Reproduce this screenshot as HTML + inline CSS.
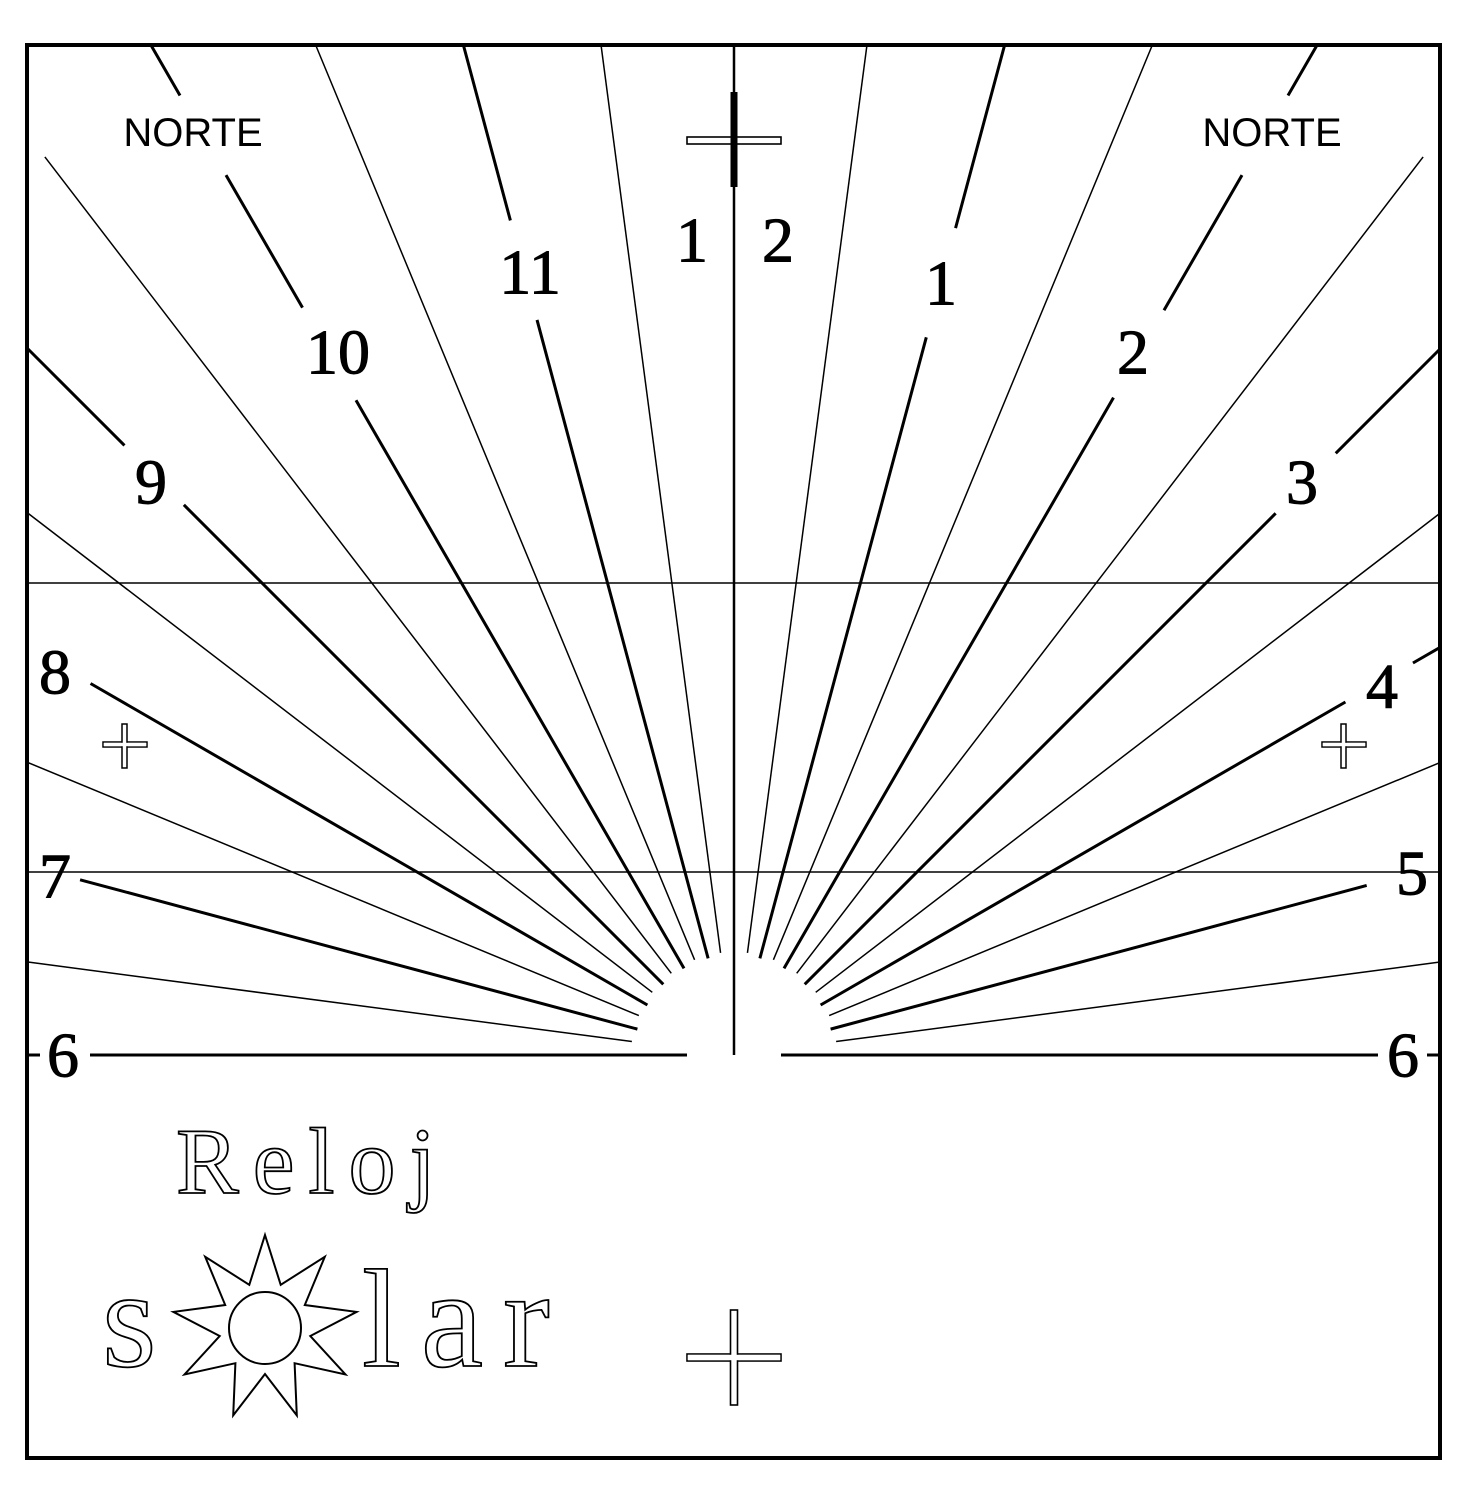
<!DOCTYPE html>
<html><head><meta charset="utf-8"><style>
html,body{margin:0;padding:0;background:#fff;}
svg{display:block;}
.num{font-family:"Liberation Serif",serif;font-size:64px;fill:#000;stroke:#000;stroke-width:1;text-anchor:middle;dominant-baseline:central;}
.norte{font-family:"Liberation Sans",sans-serif;font-size:40px;fill:#000;text-anchor:middle;dominant-baseline:central;}
.outl{font-family:"Liberation Serif",serif;fill:#fff;stroke:#000;stroke-width:1.8;}
</style></head><body>
<svg id="dial" width="1472" height="1490" viewBox="0 0 1472 1490">
<rect x="27" y="45" width="1413" height="1413" fill="#fff" stroke="#000" stroke-width="4"/>
<g id="lines"></g>
<line x1="27" y1="583" x2="1440" y2="583" stroke="#000" stroke-width="1.5"/>
<line x1="27" y1="872" x2="1440" y2="872" stroke="#000" stroke-width="1.5"/>
<line x1="734" y1="45" x2="734" y2="1055" stroke="#000" stroke-width="2.5"/>
<line x1="27" y1="1055" x2="40" y2="1055" stroke="#000" stroke-width="3"/>
<line x1="1427" y1="1055" x2="1440" y2="1055" stroke="#000" stroke-width="3"/>
<rect x="687" y="137" width="94" height="7" fill="#fff" stroke="#000" stroke-width="1.6"/>
<rect x="730.5" y="92" width="7" height="95" fill="#000"/>
<g fill="#fff" stroke="#000" stroke-width="1.5">
<rect x="103" y="742" width="44" height="5"/><rect x="122" y="724" width="5" height="44"/><rect x="103.8" y="742.8" width="42.4" height="3.4" stroke="none"/></g>
<g fill="#fff" stroke="#000" stroke-width="1.5">
<rect x="1322" y="742" width="44" height="5"/><rect x="1341" y="724" width="5" height="44"/><rect x="1322.8" y="742.8" width="42.4" height="3.4" stroke="none"/></g>
<g fill="#fff" stroke="#000" stroke-width="1.6">
<rect x="687" y="1354" width="94" height="7"/><rect x="730.5" y="1310" width="7" height="95"/><rect x="687.8" y="1354.8" width="92.4" height="5.4" stroke="none"/></g>
<g id="labels"></g>
<text class="norte" x="193" y="133">NORTE</text>
<text class="norte" x="1272" y="133">NORTE</text>
<text class="outl" x="176" y="1193" font-size="94" letter-spacing="14">Reloj</text>
<text class="outl" x="102" y="1366" font-size="140">s</text>
<text class="outl" x="362" y="1366" font-size="140" letter-spacing="20">lar</text>
<polygon id="sun" fill="#fff" stroke="#000" stroke-width="2"/>
<circle cx="265" cy="1328" r="36" fill="#fff" stroke="#000" stroke-width="2"/>
</svg>
<script>
const hours = [-6,-5.5,-5,-4.5,-4,-3.5,-3,-2.5,-2,-1.5,-1,-0.5,0.5,1,1.5,2,2.5,3,3.5,4,4.5,5,5.5,6];
const hourLabels = ["6","7","8","9","10","11","1","2","3","4","5","6"];
const labelX = [63,55,55,151,338,530,941,1133,1302,1382,1412,1403];
const labelY = [1055,876,672,482,352,272,283,352,482,686,873,1055];
const gapInner = {"-5":677,"-4":743,"-3":778,"-2":756,"-1":761,"1":743,"2":759,"3":766,"4":706,"5":655};
const gapOuter = {"-5":9999,"-4":9999,"-3":862,"-2":863,"-1":864,"1":856,"2":860,"3":851,"4":784,"5":9999};
const norteGap = {"-2":[1016,1108],"2":[1016,1108]};
const halfMax = {"-2.5":1132,"2.5":1132};
const cx=734, cy=1055, X0=27, X1=1440, Y0=45;
const svgNS="http://www.w3.org/2000/svg";
function ang(h){return h*15*Math.PI/180;}
function pt(h,r){const a=ang(h);return [cx+r*Math.sin(a), cy-r*Math.cos(a)];}
function borderR(h){const a=ang(h),s=Math.sin(a),c=Math.cos(a);let r=1e9;
 if(c>1e-6) r=Math.min(r,(cy-Y0)/c);
 if(s>1e-6) r=Math.min(r,(X1-cx)/s);
 if(s<-1e-6) r=Math.min(r,(cx-X0)/-s);
 return r;}
const lg=document.getElementById('lines');
function seg(h,r1,r2,w){
 if(r2<=r1) return;
 const p=pt(h,r1),q=pt(h,r2);
 const l=document.createElementNS(svgNS,'line');
 l.setAttribute('x1',p[0]);l.setAttribute('y1',p[1]);l.setAttribute('x2',q[0]);l.setAttribute('y2',q[1]);
 l.setAttribute('stroke','#000');l.setAttribute('stroke-width',w);
 
 
 lg.appendChild(l);}
hours.forEach(h=>{
 const R=borderR(h);
 if(Math.abs(h)===6){ seg(h,47,644,3); return; }
 if(h%1!==0){ seg(h,103,Math.min(R,halfMax[String(h)]||1e9),1.5); return; }
 const gi=gapInner[h], go=gapOuter[h];
 seg(h,100,Math.min(gi,R),3);
 if(norteGap[h]){ seg(h,go,norteGap[h][0],3); seg(h,norteGap[h][1],R,3);}
 else seg(h,go,R,3);
});
const lab=document.getElementById('labels');
hourLabels.forEach((t,i)=>{
 const e=document.createElementNS(svgNS,'text');
 e.setAttribute('class','num');e.setAttribute('x',labelX[i]);e.setAttribute('y',labelY[i]);
 e.textContent=t;
 
 
 lab.appendChild(e);});
[["1",692,240],["2",778,240]].forEach(d=>{
 const e=document.createElementNS(svgNS,'text');
 e.setAttribute('class','num');e.setAttribute('x',d[1]);e.setAttribute('y',d[2]);e.textContent=d[0];
 
 
 lab.appendChild(e);});
let pts=[];for(let k=0;k<18;k++){const a=k*20*Math.PI/180;const r=k%2?46:93;pts.push((265+r*Math.sin(a)).toFixed(1)+','+(1328-r*Math.cos(a)).toFixed(1));}
document.getElementById('sun').setAttribute('points',pts.join(' '));
</script>
</body></html>
